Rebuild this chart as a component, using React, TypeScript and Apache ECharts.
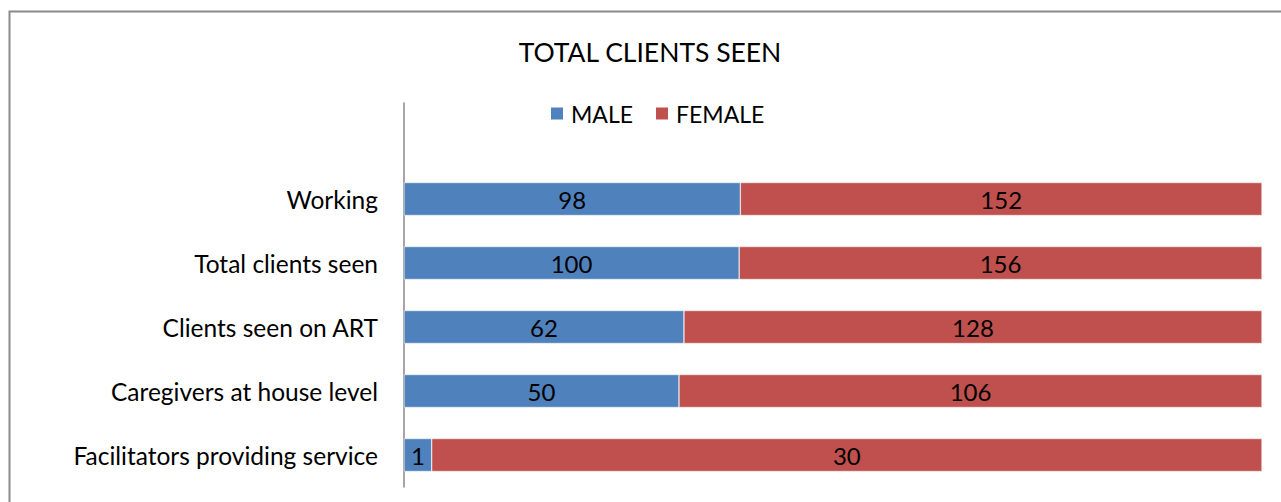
import React, { useEffect, useRef } from "react";
import * as echarts from "echarts";

const categories = [
  "Facilitators providing service",
  "Caregivers at house level",
  "Clients seen on ART",
  "Total clients seen",
  "Working",
  "",
];
const maleValues = [1, 50, 62, 100, 98, null];
const femaleValues = [30, 106, 128, 156, 152, null];

const FONT = "Lato, 'Noto Sans', sans-serif";

export default function App() {
  const ref = useRef<HTMLDivElement>(null);
  useEffect(() => {
    const chart = echarts.init(ref.current!, null, { renderer: "svg" });
    const pct = (i: number, v: number | null) => {
      const m = maleValues[i];
      const f = femaleValues[i];
      if (v == null || m == null || f == null) return null;
      return { value: (v / (m + f)) * 100, raw: v };
    };
    const maleData = maleValues.map((v, i) => pct(i, v));
    const femaleData = femaleValues.map((v, i) => pct(i, v));
    const labelCfg = {
      show: true,
      position: "inside",
      color: "#000",
      fontSize: 24,
      fontFamily: FONT,
      formatter: (p: any) => (p.data && p.data.raw != null ? String(p.data.raw) : ""),
    };
    chart.setOption({
      animation: false,
      title: {
        text: "TOTAL CLIENTS SEEN",
        left: 645,
        textAlign: "center",
        top: 33,
        textStyle: { fontFamily: FONT, fontSize: 26.5, fontWeight: "normal", color: "#000" },
      },
      legend: {
        left: 544,
        top: 97,
        itemWidth: 14,
        itemHeight: 14,
        itemGap: 21,
        icon: "rect",
        textStyle: { fontFamily: FONT, fontSize: 23, color: "#000", padding: [0, 0, 0, 2] },
        data: ["MALE", "FEMALE"],
      },
      graphic: [
        {
          type: "rect",
          shape: { x: 9.5, y: 11.5, width: 1400, height: 600 },
          style: { fill: "none", stroke: "#8a8a8a", lineWidth: 2 },
          silent: true,
        },
      ],
      grid: { left: 404, right: 19, top: 103, bottom: 15 },
      xAxis: {
        type: "value",
        min: 0,
        max: 100,
        show: false,
      },
      yAxis: {
        type: "category",
        data: categories,
        axisLine: { show: true, lineStyle: { color: "#888", width: 1.5 } },
        axisTick: { show: false },
        axisLabel: { fontFamily: FONT, fontSize: 24.5, color: "#000", margin: 26 },
      },
      series: [
        {
          name: "MALE",
          type: "bar",
          stack: "total",
          barWidth: 33,
          itemStyle: { color: "#4F81BD", borderColor: "#fff", borderWidth: 0.5 },
          label: labelCfg,
          data: maleData,
        },
        {
          name: "FEMALE",
          type: "bar",
          stack: "total",
          barWidth: 33,
          itemStyle: { color: "#C0504D", borderColor: "#fff", borderWidth: 0.5 },
          label: labelCfg,
          data: femaleData,
        },
      ],
    });
    return () => chart.dispose();
  }, []);
  return (
    <div
      ref={ref}
      style={{ position: "fixed", left: 0, top: 0, width: 1281, height: 502, background: "#fff" }}
    />
  );
}
